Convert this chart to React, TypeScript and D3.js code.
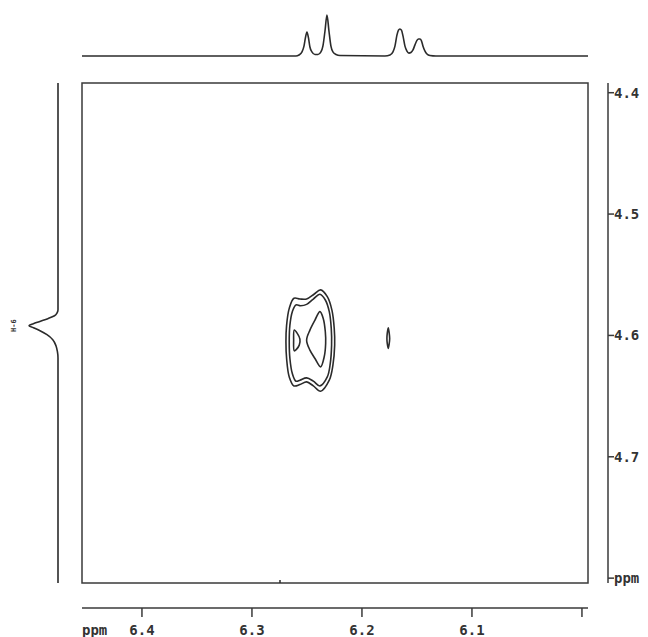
import React from "react";
import * as d3 from "d3";

// ---- data (ppm) ----
const F2_DOMAIN: [number, number] = [6.4545, 5.9945];
const F1_DOMAIN: [number, number] = [4.392, 4.804];
const F2_TICKS = [6.4, 6.3, 6.2, 6.1, 6.0];
const F2_TICK_LABELS = ["6.4", "6.3", "6.2", "6.1", ""];
const F1_TICKS = [4.4, 4.5, 4.6, 4.7, 4.8];
const F1_TICK_LABELS = ["4.4", "4.5", "4.6", "4.7", "ppm"];
const F2_UNIT = "ppm";
const F1_PROJ_LABEL = "H-6";

// top projection: [ppm, relative intensity]
const TOP_TRACE: [number, number][] = [
  [6.4545, 0], [6.26, 0], [6.2573, 2.4], [6.2545, 10], [6.2527, 24], [6.2514, 44], [6.25, 58.5],
  [6.2486, 44], [6.2473, 22], [6.2455, 10], [6.2427, 3.7], [6.24, 3.7], [6.2373, 10], [6.2355, 24],
  [6.2336, 61], [6.2318, 100], [6.23, 61], [6.2282, 24], [6.2264, 10], [6.2236, 3.7], [6.22, 1.2],
  [6.1791, 0], [6.1745, 2.4], [6.1718, 10], [6.17, 24], [6.1682, 51], [6.1668, 63], [6.1655, 66],
  [6.1641, 63], [6.1627, 49], [6.1609, 24], [6.1591, 12], [6.1573, 7], [6.1555, 8.5], [6.1536, 15],
  [6.1518, 27], [6.15, 38], [6.1486, 41.5], [6.1473, 41.5], [6.1459, 37], [6.1445, 24], [6.1427, 12],
  [6.1409, 5], [6.1382, 1.2], [6.1327, 0], [5.9945, 0],
];

// left projection: [ppm, relative intensity]
const LEFT_TRACE: [number, number][] = [
  [4.392, 0], [4.5788, 0], [4.5813, 3], [4.5838, 12], [4.5862, 35], [4.5887, 65], [4.5904, 85],
  [4.592, 100], [4.5936, 85], [4.5961, 62], [4.5994, 38], [4.6035, 18], [4.6085, 7], [4.6134, 2],
  [4.6184, 0], [4.804, 0],
];

// contour lines: [F2 ppm, F1 ppm]
const CONTOUR_OUTER: [number, number][] = [
  [6.2376, 4.5625], [6.2315, 4.568], [6.2273, 4.5791], [6.2252, 4.5942], [6.2248, 4.608],
  [6.2264, 4.6245], [6.2297, 4.6369], [6.2376, 4.646], [6.2442, 4.6416], [6.2503, 4.6383],
  [6.2564, 4.6405], [6.2618, 4.6416], [6.2661, 4.6342], [6.2685, 4.619], [6.2691, 4.6052],
  [6.2685, 4.5915], [6.2661, 4.5777], [6.2618, 4.5694], [6.2564, 4.57], [6.2503, 4.57], [6.2436, 4.5661],
];
const CONTOUR_MID: [number, number][] = [
  [6.2382, 4.5661], [6.2333, 4.5708], [6.2297, 4.5804], [6.2279, 4.5942], [6.2276, 4.608],
  [6.2288, 4.6231], [6.2315, 4.6342], [6.2382, 4.6416], [6.2442, 4.6377], [6.2503, 4.635],
  [6.2564, 4.6369], [6.26, 4.6377], [6.2633, 4.6314], [6.2655, 4.619], [6.2661, 4.6052],
  [6.2655, 4.5915], [6.2633, 4.5804], [6.26, 4.5749], [6.2558, 4.5755], [6.2503, 4.5744], [6.2442, 4.57],
];
const CONTOUR_INNER_LEFT: [number, number][] = [
  [6.2615, 4.5956], [6.2588, 4.5983], [6.2564, 4.603], [6.257, 4.608], [6.2594, 4.6113],
  [6.2615, 4.6127], [6.2621, 4.6039],
];
const CONTOUR_INNER_RIGHT: [number, number][] = [
  [6.2382, 4.5804], [6.2352, 4.586], [6.2333, 4.597], [6.233, 4.6066], [6.2343, 4.6176],
  [6.2376, 4.6259], [6.2427, 4.619], [6.2473, 4.6121], [6.2503, 4.6039], [6.2473, 4.5956], [6.2427, 4.5873],
];
const CONTOUR_SMALL: [number, number][] = [
  [6.1761, 4.5937], [6.1752, 4.5983], [6.1748, 4.6025], [6.1752, 4.6066], [6.1761, 4.6107],
  [6.177, 4.6066], [6.1773, 4.6025], [6.177, 4.5983],
];
const CONTOURS = [CONTOUR_OUTER, CONTOUR_MID, CONTOUR_INNER_LEFT, CONTOUR_INNER_RIGHT, CONTOUR_SMALL];
const BORDER_MARK_PPM = 6.2745;

export default function App() {
  const W = 648, H = 637;
  const box = { x0: 82, x1: 588, y0: 83, y1: 583 };
  const x = d3.scaleLinear().domain(F2_DOMAIN).range([box.x0, box.x1]);
  const y = d3.scaleLinear().domain(F1_DOMAIN).range([box.y0, box.y1]);
  const topI = d3.scaleLinear().domain([0, 100]).range([56, 15]);
  const leftI = d3.scaleLinear().domain([0, 100]).range([58, 29]);

  const topLine = d3.line<[number, number]>().x(d => x(d[0])).y(d => topI(d[1])).curve(d3.curveMonotoneX);
  const leftLine = d3.line<[number, number]>().x(d => leftI(d[1])).y(d => y(d[0])).curve(d3.curveMonotoneY);
  const contourLine = d3.line<[number, number]>().x(d => x(d[0])).y(d => y(d[1])).curve(d3.curveCatmullRomClosed.alpha(0.5));

  const ink = "#2b2b2b";
  const font = "'DejaVu Sans Mono', monospace";
  const axisX = 608;
  const axisY = 608;
  const peakY = y(LEFT_TRACE[7][0]);

  return (
    <svg width={W} height={H} style={{ position: "absolute", left: 0, top: 0, background: "#fff" }}>
      <g fill="none" stroke={ink} strokeWidth={1.6} strokeLinejoin="round">
        <path d={topLine(TOP_TRACE) || ""} />
        <path d={leftLine(LEFT_TRACE) || ""} />
      </g>
      <rect x={box.x0} y={box.y0} width={box.x1 - box.x0} height={box.y1 - box.y0} fill="none" stroke="#3a3a3a" strokeWidth={1.5} />
      <line x1={x(BORDER_MARK_PPM)} x2={x(BORDER_MARK_PPM)} y1={box.y1} y2={box.y1 - 3} stroke={ink} strokeWidth={1.5} />
      <g fill="none" stroke={ink} strokeWidth={1.6}>
        {CONTOURS.map((c, i) => <path key={i} d={contourLine(c) || ""} />)}
      </g>
      {/* right (F1) axis */}
      <line x1={axisX} x2={axisX} y1={box.y0} y2={box.y1} stroke="#3a3a3a" strokeWidth={1.5} />
      {F1_TICKS.map((t, i) => (
        <g key={i}>
          <line x1={axisX} x2={axisX + 6} y1={y(t)} y2={y(t)} stroke="#3a3a3a" strokeWidth={1.5} />
          <text x={axisX + 6} y={y(t)} dy="0.35em" fontFamily={font} fontWeight="bold" fontSize={14} fill="#333">{F1_TICK_LABELS[i]}</text>
        </g>
      ))}
      {/* bottom (F2) axis */}
      <line x1={box.x0} x2={box.x1} y1={axisY} y2={axisY} stroke="#3a3a3a" strokeWidth={1.5} />
      {F2_TICKS.map((t, i) => (
        <g key={i}>
          <line x1={x(t)} x2={x(t)} y1={axisY} y2={axisY + 9} stroke="#3a3a3a" strokeWidth={1.5} />
          <text x={x(t)} y={635} textAnchor="middle" fontFamily={font} fontWeight="bold" fontSize={14} fill="#333">{F2_TICK_LABELS[i]}</text>
        </g>
      ))}
      <text x={box.x0} y={635} fontFamily={font} fontWeight="bold" fontSize={14} fill="#333">{F2_UNIT}</text>
      <text transform={`translate(14,${peakY}) rotate(-90)`} textAnchor="middle" dy="0.35em" fontFamily={font} fontWeight="bold" fontSize={7} fill="#333">{F1_PROJ_LABEL}</text>
    </svg>
  );
}
